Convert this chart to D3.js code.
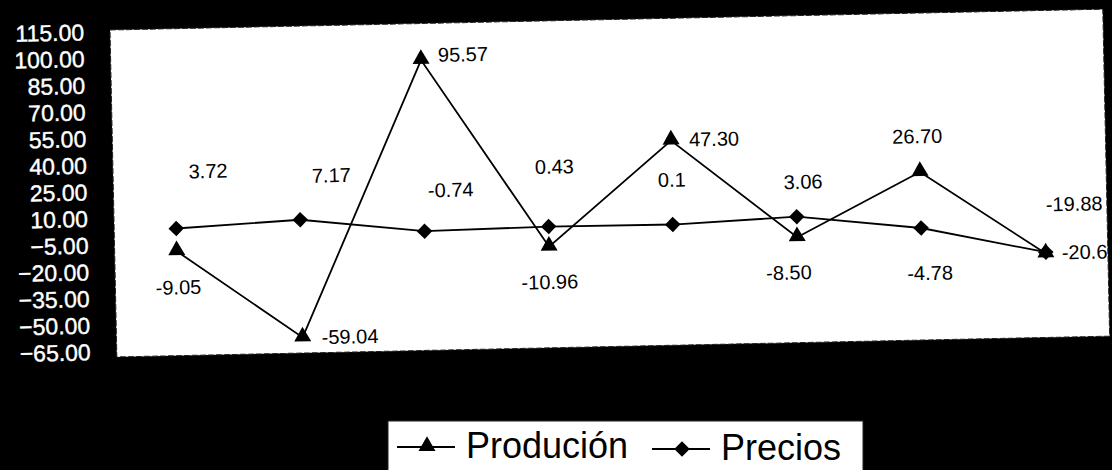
<!DOCTYPE html>
<html>
<head>
<meta charset="utf-8">
<script src="https://cdn.jsdelivr.net/npm/d3@7"></script>
<style>
  body { margin: 0; background: #000; }
  svg { display: block; }
</style>
</head>
<body>
<svg id="chart"></svg>
<script>
// data
const categories = [1, 2, 3, 4, 5, 6, 7, 8];
const producion = [-9.05, -59.04, 95.57, -10.96, 47.30, -8.50, 26.70, -20.6];
const precios = [3.72, 7.17, -0.74, 0.43, 0.1, 3.06, -4.78, -19.88];
const producionLabels = ['-9.05', '-59.04', '95.57', '-10.96', '47.30', '-8.50', '26.70', '-20.6'];
const preciosLabels = ['3.72', '7.17', '-0.74', '0.43', '0.1', '3.06', '-4.78', '-19.88'];
const yTicks = [115, 100, 85, 70, 55, 40, 25, 10, -5, -20, -35, -50, -65];

// label placement (dx, dy, anchor) relative to each marker
const prodLabelPos = [[1, 36, 'middle'], [19, 0, 'start'], [17, -5, 'start'], [0, 35, 'middle'],
                      [18, -1, 'start'], [-9, 35, 'middle'], [-2, -36, 'middle'], [16, -1, 'start']];
const precLabelPos = [[33, -57, 'middle'], [32, -44, 'middle'], [27, -41, 'middle'], [7, -60, 'middle'],
                      [0, -45, 'middle'], [7, -35, 'middle'], [8, 45, 'middle'], [1, -48, 'start']];

const W = 1112, H = 470;
const plot = { left: 110, top: 30, right: 1103, bottom: 357 };

const svg = d3.select('#chart')
    .attr('width', W)
    .attr('height', H)
    .style('background', '#000');

svg.append('rect').attr('width', W).attr('height', H).attr('fill', '#000');

// the scan is slightly tilted
const g = svg.append('g')
    .attr('transform', `rotate(-1.2, ${plot.left}, ${plot.top})`);

const x = d3.scalePoint()
    .domain(categories)
    .range([plot.left, plot.right])
    .padding(0.5);

const y = d3.scaleLinear()
    .domain([-65, 115])
    .range([352, 32]);

// plot area
g.append('rect')
    .attr('x', plot.left)
    .attr('y', plot.top)
    .attr('width', plot.right - plot.left)
    .attr('height', plot.bottom - plot.top)
    .attr('fill', '#fff')
    .attr('stroke', '#222')
    .attr('stroke-width', 1)
    .attr('stroke-dasharray', '6,2');

// y axis labels (white on black)
const yAxis = d3.axisLeft(y)
    .tickValues(yTicks)
    .tickSize(0)
    .tickPadding(0)
    .tickFormat(d3.format('.2f'));

const axisG = g.append('g')
    .attr('transform', 'translate(84,0)')
    .call(yAxis);
axisG.select('.domain').remove();
axisG.selectAll('text')
    .attr('fill', '#fff')
    .attr('stroke', '#fff')
    .attr('stroke-width', 0.4)
    .style('font-family', '"Liberation Sans", Arial, sans-serif')
    .style('font-size', '23px');

const line = d3.line()
    .x((d, i) => x(categories[i]))
    .y(d => y(d));

const triangle = d3.symbol().type(d3.symbolTriangle).size(125);
const diamond = d3.symbol().type(d3.symbolSquare).size(120);

// Precios
g.append('path')
    .datum(precios)
    .attr('d', line)
    .attr('fill', 'none')
    .attr('stroke', '#000')
    .attr('stroke-width', 1.8);

g.selectAll('.prec-pt')
    .data(precios)
    .join('path')
    .attr('class', 'prec-pt')
    .attr('d', diamond)
    .attr('transform', (d, i) => `translate(${x(categories[i])},${y(d)}) rotate(45)`)
    .attr('fill', '#000');

// Produción
g.append('path')
    .datum(producion)
    .attr('d', line)
    .attr('fill', 'none')
    .attr('stroke', '#000')
    .attr('stroke-width', 1.8);

g.selectAll('.prod-pt')
    .data(producion)
    .join('path')
    .attr('class', 'prod-pt')
    .attr('d', triangle)
    .attr('transform', (d, i) => `translate(${x(categories[i])},${y(d) - 1})`)
    .attr('fill', '#000');

// data labels
const labelFont = '"Liberation Sans", Arial, sans-serif';
function addLabels(values, texts, pos) {
    g.append('g')
        .selectAll('text')
        .data(values)
        .join('text')
        .attr('x', (d, i) => x(categories[i]) + pos[i][0])
        .attr('y', (d, i) => y(d) + pos[i][1])
        .attr('dy', '0.36em')
        .attr('text-anchor', (d, i) => pos[i][2])
        .style('font-family', labelFont)
        .style('font-size', '20px')
        .attr('fill', '#000')
        .text((d, i) => texts[i]);
}
addLabels(producion, producionLabels, prodLabelPos);
addLabels(precios, preciosLabels, precLabelPos);

// legend
const legend = svg.append('g');
legend.append('rect')
    .attr('x', 388).attr('y', 421)
    .attr('width', 475).attr('height', 60)
    .attr('fill', '#fff')
    .attr('stroke', '#222');

const legendItems = [
    { name: 'Produción', sym: 'tri', x0: 397, y0: 447 },
    { name: 'Precios', sym: 'dia', x0: 652, y0: 449 }
];
legendItems.forEach(it => {
    legend.append('line')
        .attr('x1', it.x0).attr('x2', it.x0 + 58)
        .attr('y1', it.y0).attr('y2', it.y0)
        .attr('stroke', '#000').attr('stroke-width', 1.8);
    legend.append('path')
        .attr('d', it.sym === 'tri' ? triangle : diamond)
        .attr('transform', `translate(${it.x0 + 30},${it.y0 - (it.sym === 'tri' ? 1 : 0)})` + (it.sym === 'tri' ? '' : ' rotate(45)'))
        .attr('fill', '#000');
    legend.append('text')
        .attr('x', it.x0 + 69)
        .attr('y', it.y0 + 11)
        .style('font-family', labelFont)
        .style('font-size', '36px')
        .attr('fill', '#000')
        .text(it.name);
});
</script>
</body>
</html>
